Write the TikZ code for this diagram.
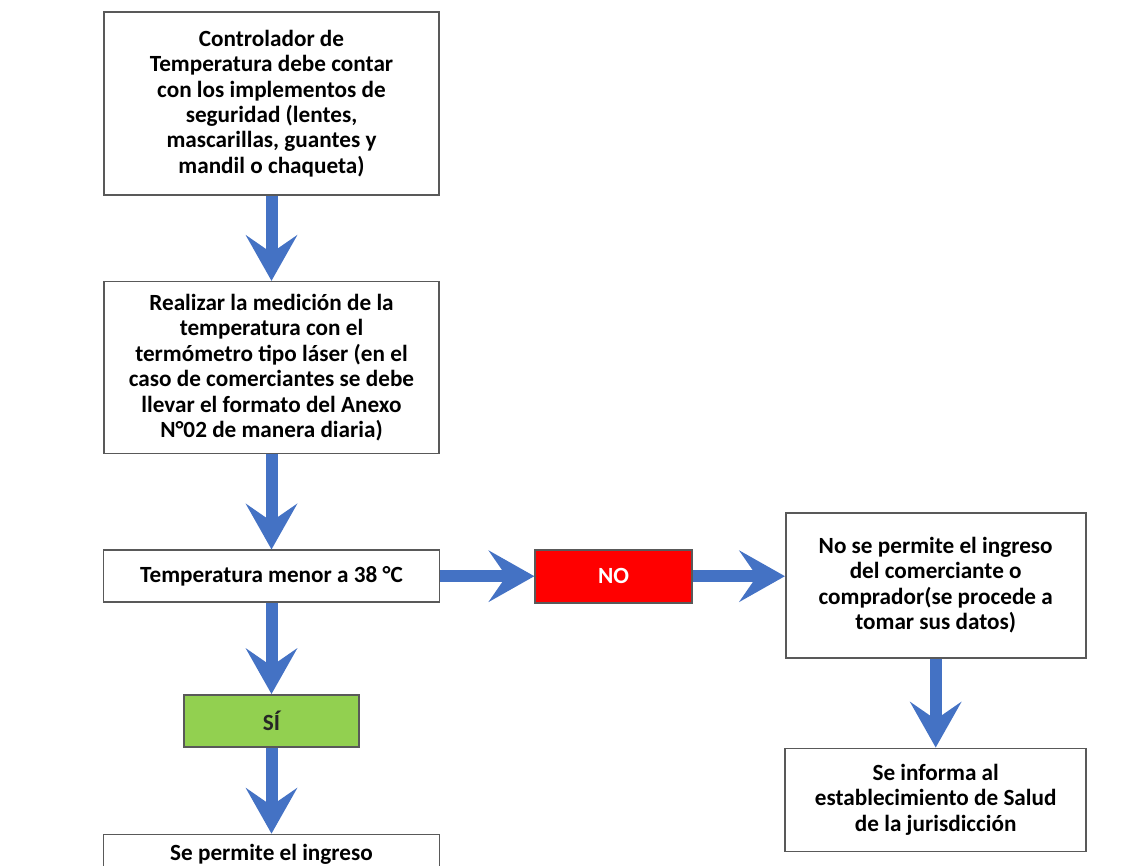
\documentclass[tikz,border=0pt]{standalone}
\usepackage{fontspec}
\setmainfont{Carlito}
\usetikzlibrary{positioning,arrows.meta}

\definecolor{flechaazul}{HTML}{4472C4}
\definecolor{rojono}{HTML}{FF0000}
\definecolor{verdesi}{HTML}{92D050}
\definecolor{bordegris}{HTML}{595959}

\tikzset{
  caja/.style={draw=bordegris, line width=0.8pt, fill=white, align=center,
    font=\bfseries\fontsize{11.6}{12.7}\selectfont, inner sep=3pt},
  flecha/.style={draw=flechaazul, line width=6pt,
    -{Stealth[length=23pt,width=26pt,inset=9pt,line width=0pt]}},
}

\begin{document}
\begin{tikzpicture}[x=0.5pt,y=-0.5pt]
 	\useasboundingbox (0,0) rectangle (1141,866);
 	\clip (0,0) rectangle (1141,866);
 	% columna izquierda
 	\node[caja, minimum width=167.5pt, minimum height=91.5pt] (control) at (271.5,103.5)
 		{Controlador de\\Temperatura debe contar\\con los implementos de\\seguridad (lentes,\\mascarillas, guantes y\\mandil o chaqueta)};
 	\node[caja, minimum width=167.5pt, minimum height=86pt, below=42.5pt of control] (medicion)
 		{Realizar la medición de la\\temperatura con el\\termómetro tipo láser (en el\\caso de comerciantes se debe\\llevar el formato del Anexo\\N°02 de manera diaria)};
 	\node[caja, minimum width=168pt, minimum height=26pt, below=47.5pt of medicion] (temp)
 		{Temperatura menor a 38 °C};
 	\node[caja, fill=verdesi, text=black!85, minimum width=87.5pt, minimum height=26pt, below=45.5pt of temp] (si) {SÍ};
 	\node[caja, minimum width=168pt, inner ysep=5pt, text depth=30pt, below=43pt of si] (ingreso)
 		{Se permite el ingreso};
 	% rama derecha
 	\node[caja, fill=rojono, text=white, minimum width=78.5pt, minimum height=26.5pt, right=47pt of temp] (no) {NO};
 	\node[caja, minimum width=150pt, minimum height=72.5pt, right=46pt of no, yshift=-4.5pt] (noingreso)
 		{No se permite el ingreso\\del comerciante o\\comprador(se procede a\\tomar sus datos)};
 	\node[caja, minimum width=150.5pt, minimum height=51.5pt, below=44.5pt of noingreso] (informa)
 		{Se informa al\\establecimiento de Salud\\de la jurisdicción};

 	\draw[flecha] (control) -- (medicion);
 	\draw[flecha] (medicion) -- (temp);
 	\draw[flecha] (temp) -- (si);
 	\draw[flecha] (si) -- (ingreso);
 	\draw[flecha] (temp.east) -- (no.west);
 	\draw[flecha] (no.east) -- (no.east -| noingreso.west);
 	\draw[flecha] (noingreso) -- (informa);
\end{tikzpicture}
\end{document}
